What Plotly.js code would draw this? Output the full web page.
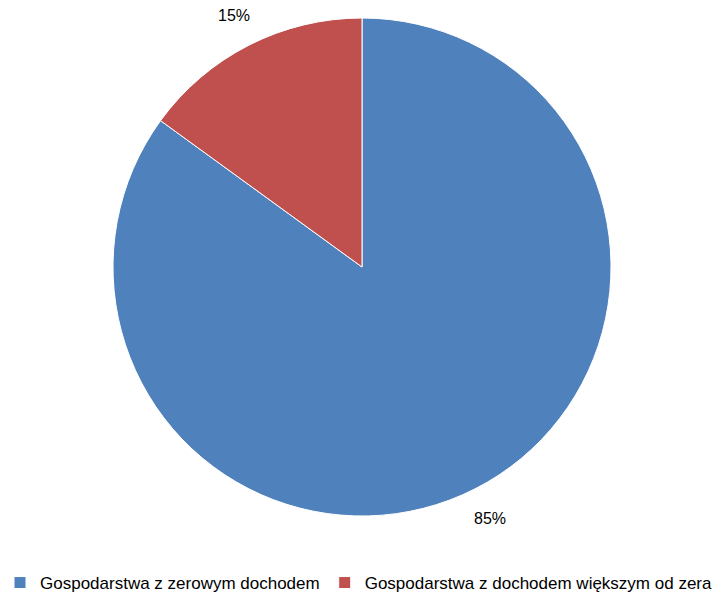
<!DOCTYPE html>
<html>
<head>
<meta charset="utf-8">
<script src="https://cdn.plot.ly/plotly-3.0.1.min.js"></script>
<style>html,body{margin:0;padding:0;background:#fff;}#chart{width:722px;height:594px;}</style>
</head>
<body>
<div id="chart"></div>
<script>
const categories = ["Gospodarstwa z zerowym dochodem", "Gospodarstwa z dochodem większym od zera"];
const values = [85, 15];
const textLabels = ["85%", "15%"];
const colors = ["#4F81BD", "#C0504D"];

const W = 722, H = 594;
const margin = {l: 0, r: 0, t: 18, b: 78};
const pieLeft = 113, pieRight = 611;
const plotW = W - margin.l - margin.r, plotH = H - margin.t - margin.b;
const R = Math.min(pieRight - pieLeft, plotH) / 2;
const cx = (pieLeft + pieRight) / 2 - margin.l;
const labelR = R + 33;

// annotations positioned from slice mid-angles (clockwise from 12 o'clock)
const total = values.reduce((a, b) => a + b, 0);
let cum = 0;
const annotations = values.map((v, i) => {
  const mid = (cum + v / 2) / total * 2 * Math.PI;
  cum += v;
  const dx = labelR * Math.sin(mid), dy = labelR * Math.cos(mid);
  return {
    x: (cx + dx) / plotW, y: 0.5 + dy / plotH,
    xref: 'paper', yref: 'paper', text: textLabels[i], showarrow: false,
    xanchor: 'center', yanchor: 'middle',
    font: {family: 'Liberation Sans, Arial, sans-serif', size: 16, color: '#000'}
  };
});

const data = [{
  type: 'pie',
  labels: categories,
  values: values,
  sort: false,
  direction: 'clockwise',
  rotation: 0,
  textinfo: 'none',
  hoverinfo: 'label+percent',
  marker: {colors: colors, line: {color: '#ffffff', width: 1}},
  domain: {x: [pieLeft / W, pieRight / W], y: [0, 1]}
}];

const layout = {
  width: W, height: H,
  margin: margin,
  paper_bgcolor: '#fff',
  showlegend: true,
  annotations: annotations,
  legend: {
    orientation: 'h',
    xref: 'container', yref: 'container',
    x: 0, xanchor: 'left',
    y: (H - 583) / H, yanchor: 'middle',
    itemgap: 39,
    font: {family: 'Liberation Sans, Arial, sans-serif', size: 17, color: '#000'},
    traceorder: 'normal'
  }
};

Plotly.newPlot('chart', data, layout, {displayModeBar: false, staticPlot: true});
</script>
</body>
</html>
